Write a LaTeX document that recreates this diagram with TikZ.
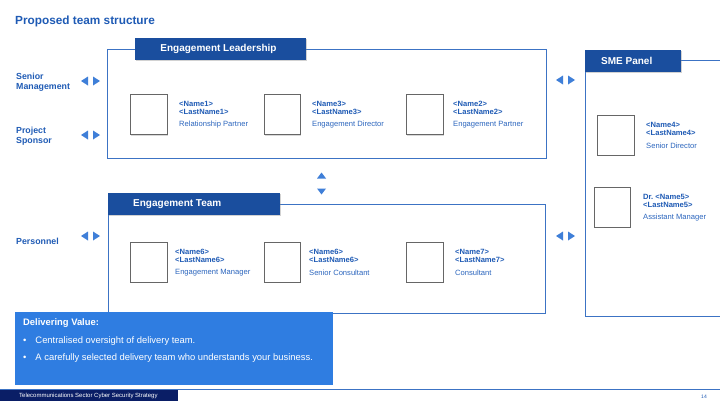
\documentclass[tikz,border=0pt]{standalone}
\usepackage{fontspec}
\setmainfont{Liberation Sans}
\usetikzlibrary{shadows}
\definecolor{tblue}{HTML}{1F5BB5}
\definecolor{rblue}{HTML}{2C66BE}
\definecolor{hdark}{HTML}{1A4E9E}
\definecolor{fline}{HTML}{3C73C4}
\definecolor{tri}{HTML}{3F7FD8}
\definecolor{dval}{HTML}{2F7DE1}
\definecolor{navy}{HTML}{0A1E66}
\tikzset{
  frame/.style={draw=fline, line width=0.8pt},
  header/.style={fill=hdark, draw=none, drop shadow={opacity=0.35, shadow xshift=1.2pt, shadow yshift=-1.2pt}},
  htext/.style={text=white, font=\bfseries\fontsize{10}{12}\selectfont, inner sep=0pt},
  photo/.style={fill=white, draw=gray!80!black, line width=0.7pt, drop shadow={opacity=0.3, shadow xshift=1pt, shadow yshift=-1pt}},
  person/.style={anchor=west, inner sep=0pt, align=left, text=tblue, font=\fontsize{7.6}{8}\selectfont},
  sidelabel/.style={anchor=west, inner sep=0pt, align=left, text=tblue, font=\bfseries\fontsize{8.8}{10}\selectfont},
  dvtext/.style={anchor=west, inner sep=0pt, text=white, font=\fontsize{9.4}{11}\selectfont},
  trifill/.style={fill=tri, draw=none}
}
\newcommand{\personinfo}[3]{\textbf{#1}\\\textbf{#2}\\[4.5pt]{\color{rblue}#3}}
\newcommand{\lrarrows}[2]{%
  \fill[trifill] (#1,#2) -- (#1+7,#2-4.5) -- (#1+7,#2+4.5) -- cycle;
  \fill[trifill] (#1+19,#2) -- (#1+12,#2-4.5) -- (#1+12,#2+4.5) -- cycle;}
\begin{document}
\begin{tikzpicture}[x=1pt,y=-1pt]
\useasboundingbox (0,0) rectangle (720,405);
\fill[white] (0,0) rectangle (720,405);

% title
\node[anchor=west, inner sep=0pt, text=tblue, font=\bfseries\fontsize{11.8}{14}\selectfont] (title) at (15,21) {Proposed team structure};

% Engagement Leadership frame
\draw[frame] (107,49) rectangle (546,158);
\path[header] (135,38) rectangle (306,60);
\node[htext] (hEL) at (218.5,49) {Engagement Leadership};

% Engagement Team frame
\draw[frame] (108,204) rectangle (545,313);
\path[header] (108,193) rectangle (280,215);
\node[htext, anchor=west] (hET) at (133,204) {Engagement Team};

% SME panel frame
\draw[frame] (730,60) -- (585,60) -- (585,316) -- (730,316);
\path[header] (585,50) rectangle (681,72);
\node[htext, anchor=west] (hSME) at (601,61) {SME Panel};

% side labels
\node[sidelabel] (sm) at (16,82.5) {Senior\\Management};
\node[sidelabel] (ps) at (16,136.5) {Project\\Sponsor};
\node[sidelabel] (pe) at (16,241) {Personnel};
\lrarrows{81}{81}
\lrarrows{81}{135}
\lrarrows{81}{236}
\lrarrows{556}{80}
\lrarrows{556}{236}
% up/down
\fill[trifill] (321.5,172.5) -- (317,178.5) -- (326,178.5) -- cycle;
\fill[trifill] (321.5,194.5) -- (317,188.5) -- (326,188.5) -- cycle;

% photos leadership
\path[photo] (130,94) rectangle (167,134.5);
\path[photo] (264,94) rectangle (300,134.5);
\path[photo] (406,94) rectangle (443,134.5);
\node[person] (p1) at (179,114.5) {\personinfo{<Name1>}{<LastName1>}{Relationship Partner}};
\node[person] (p3) at (312,114.5) {\personinfo{<Name3>}{<LastName3>}{Engagement Director}};
\node[person] (p2) at (453,114.5) {\personinfo{<Name2>}{<LastName2>}{Engagement Partner}};

% photos team
\path[photo] (130,242) rectangle (167,282);
\path[photo] (264,242) rectangle (300,282);
\path[photo] (406,242) rectangle (443,282);
\node[person] (p6) at (175,262.5) {\personinfo{<Name6>}{<LastName6>}{Engagement Manager}};
\node[person] (p6b) at (309,262.5) {\personinfo{<Name6>}{<LastName6>}{Senior Consultant}};
\node[person] (p7) at (455,262.5) {\personinfo{<Name7>}{<LastName7>}{Consultant}};

% SME photos
\path[photo] (597,115) rectangle (634,155);
\path[photo] (594,187) rectangle (630,227);
\node[person] (p4) at (646,135.5) {\personinfo{<Name4>}{<LastName4>}{Senior Director}};
\node[person] (p5) at (643,207.5) {\personinfo{Dr.\ <Name5>}{<LastName5>}{Assistant Manager}};

% Delivering value box
\fill[dval] (15,312) rectangle (333,385);
\node[dvtext, font=\bfseries\fontsize{9.4}{11}\selectfont] (dvt) at (23,323.5) {Delivering Value:};
\node[dvtext] (b1) at (23,341.5) {\textbullet\hspace{9pt}Centralised oversight of delivery team.};
\node[dvtext] (b2) at (23,358) {\textbullet\hspace{9pt}A carefully selected delivery team who understands your business.};

% footer
\draw[fline, line width=0.8pt] (0,389.5) -- (720,389.5);
\fill[navy] (0,390) rectangle (178,401);
\node[anchor=west, inner sep=0pt, text=white, font=\fontsize{6}{7}\selectfont] (ft) at (19,395.5) {Telecommunications Sector Cyber Security Strategy};
\node[anchor=center, inner sep=0pt, text=tblue, font=\fontsize{5}{6}\selectfont] (pg) at (704,397) {14};
\end{tikzpicture}
\end{document}
